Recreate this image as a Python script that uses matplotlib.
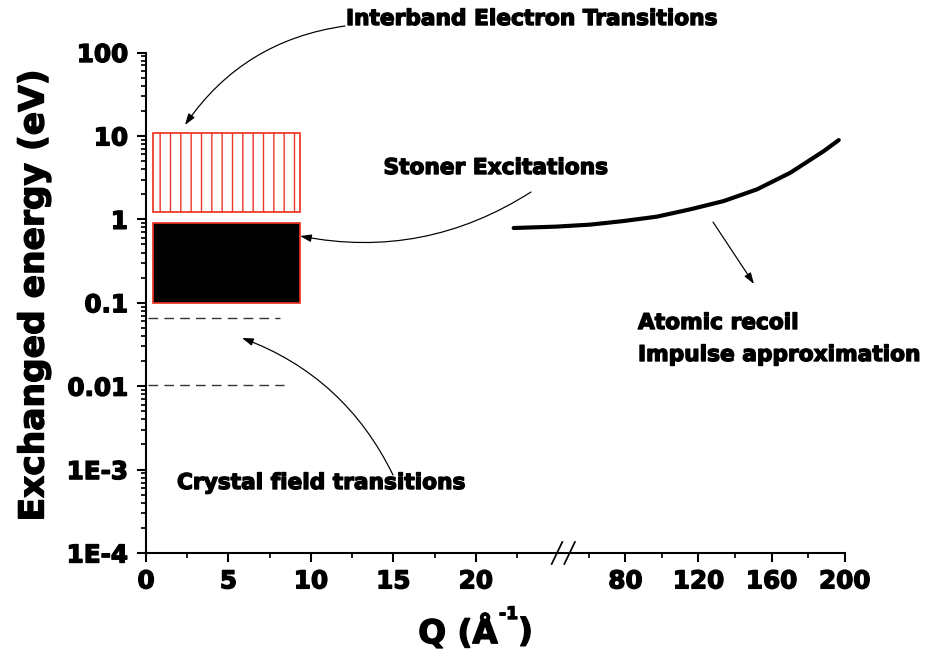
import numpy as np
import matplotlib
matplotlib.use("Agg")
import matplotlib.pyplot as plt
import matplotlib.patheffects as pe
from matplotlib.patches import Rectangle
from matplotlib.ticker import FixedLocator, LogLocator, NullFormatter

W, H = 944, 656
DPI = 124

plt.rcParams['font.family'] = ['DejaVu Sans']
plt.rcParams['font.weight'] = 'bold'
plt.rcParams['hatch.linewidth'] = 0.8

# broken Q axis: 0..25 linear, 50..200 compressed
break_q = [0, 25, 50, 200]
break_u = [0, 25, 25.75, 42.37]

x_major = [0, 5, 10, 15, 20, 80, 120, 160, 200]
x_minor = [2.5, 7.5, 12.5, 17.5, 22.5, 60, 100, 140, 180]
y_major = [1e-4, 1e-3, 1e-2, 1e-1, 1, 10, 100]
y_labels = ["1E-4", "1E-3", "0.01", "0.1", "1", "10", "100"]

# regions
interband_q = (0.4, 9.35)
interband_e = (1.22, 10.9)
stoner_q = (0.4, 9.35)
stoner_e = (0.1, 0.91)
crystal_e = [0.0665, 0.0103]
crystal_q0 = [0.15, 0.15]
crystal_q1 = [8.1, 8.35]

# atomic recoil curve
recoil_q = [22.3, 24.9, 60.7, 79.0, 97.3, 115.5, 133.8, 152.1, 170.3, 188.6, 196.8]
recoil_e = [0.787, 0.818, 0.864, 0.954, 1.077, 1.318, 1.656, 2.29, 3.62, 6.58, 8.91]

heavy = [pe.withStroke(linewidth=0.8, foreground='black')]


def fwd(q):
    return np.interp(q, break_q, break_u)


def inv(u):
    return np.interp(u, break_u, break_q)


def fp(x, y):
    # figure pixels from top-left image coordinates
    return (x, H - y)


fig = plt.figure(figsize=(W / DPI, H / DPI), dpi=DPI)
ax = fig.add_axes([146 / W, 1 - 553 / H, (844.6 - 146) / W, (553 - 52.5) / H])

ax.set_xscale('function', functions=(fwd, inv))
ax.set_yscale('log')
ax.set_xlim(0, 200)
ax.set_ylim(1e-4, 100)

ax.xaxis.set_major_locator(FixedLocator(x_major))
ax.xaxis.set_minor_locator(FixedLocator(x_minor))
ax.set_xticklabels([str(v) for v in x_major])
ax.xaxis.set_minor_formatter(NullFormatter())
ax.yaxis.set_major_locator(FixedLocator(y_major))
ax.set_yticklabels(y_labels)
ax.yaxis.set_minor_locator(LogLocator(base=10, subs=np.arange(2, 10)))
ax.yaxis.set_minor_formatter(NullFormatter())

for s in ['top', 'right']:
    ax.spines[s].set_visible(False)
for s in ['left', 'bottom']:
    ax.spines[s].set_linewidth(1.2)

ax.tick_params(which='major', direction='out', length=5.5, width=1.2, labelsize=14.3)
ax.tick_params(which='minor', direction='out', length=3, width=1.0)
ax.tick_params(axis='y', which='major', pad=5)
ax.tick_params(axis='x', which='major', pad=4)
for lab in ax.get_xticklabels() + ax.get_yticklabels():
    lab.set_path_effects(heavy)

# regions
ax.add_patch(Rectangle((interband_q[0], interband_e[0]), interband_q[1] - interband_q[0],
                       interband_e[1] - interband_e[0], facecolor='white',
                       edgecolor='#ee3322', hatch='||', linewidth=1.0, zorder=2))
ax.add_patch(Rectangle((stoner_q[0], stoner_e[0]), stoner_q[1] - stoner_q[0],
                       stoner_e[1] - stoner_e[0], facecolor='black',
                       edgecolor='#ee3322', linewidth=1.0, zorder=2))
ax.hlines(crystal_e, crystal_q0, crystal_q1, colors='#333333', linewidth=0.8,
          linestyles=(0, (7, 4.5)))

ax.plot(recoil_q, recoil_e, color='black', linewidth=2.4, solid_capstyle='round')

# axis break marks
for xc in [0.5883, 0.6064]:
    ax.plot([xc - 0.0076, xc + 0.0076], [-0.022, 0.022], transform=ax.transAxes,
            color='black', linewidth=1.0, clip_on=False)

# axis labels
fig.text(34 / W, 1 - 295 / H, 'Exchanged energy (eV)', rotation=90,
         ha='center', va='center', fontsize=20, path_effects=heavy)
fig.text(498 / W, 1 - 632 / H, 'Q (Å', ha='right', va='center', fontsize=19,
         path_effects=heavy)
fig.text(499 / W, 1 - 614 / H, '-1', ha='left', va='center', fontsize=10,
         path_effects=heavy)
fig.text(518 / W, 1 - 632 / H, ')', ha='left', va='center', fontsize=19,
         path_effects=heavy)

# annotations
ann = dict(fontsize=12.6, fontweight='bold', va='center', path_effects=heavy)
fig.text(346 / W, 1 - 19 / H, 'Interband Electron Transitions', ha='left', **ann)
fig.text(496 / W, 1 - 168 / H, 'Stoner Excitations', ha='center', **ann)
fig.text(177 / W, 1 - 483 / H, 'Crystal field transitions', ha='left', **ann)
fig.text(638 / W, 1 - 323 / H, 'Atomic recoil', ha='left', **ann)
fig.text(638 / W, 1 - 355 / H, 'Impulse approximation', ha='left', **ann)

arrow = dict(arrowstyle='-|>,head_length=0.6,head_width=0.2', color='black',
             lw=0.7, mutation_scale=9, shrinkA=0, shrinkB=0)
arrows = [
    (fp(345, 26), fp(185, 125), 0.22),
    (fp(531, 192), fp(300, 236), -0.2),
    (fp(393, 475), fp(242, 338), 0.2),
    (fp(713, 222), fp(754, 284), 0.0),
]
for start, tip, rad in arrows:
    fig.add_artist(matplotlib.text.Annotation(
        '', xy=tip, xycoords='figure pixels', xytext=start, textcoords='figure pixels',
        arrowprops=dict(connectionstyle=f'arc3,rad={rad}', **arrow)))

fig.savefig('out.png', dpi=DPI)
